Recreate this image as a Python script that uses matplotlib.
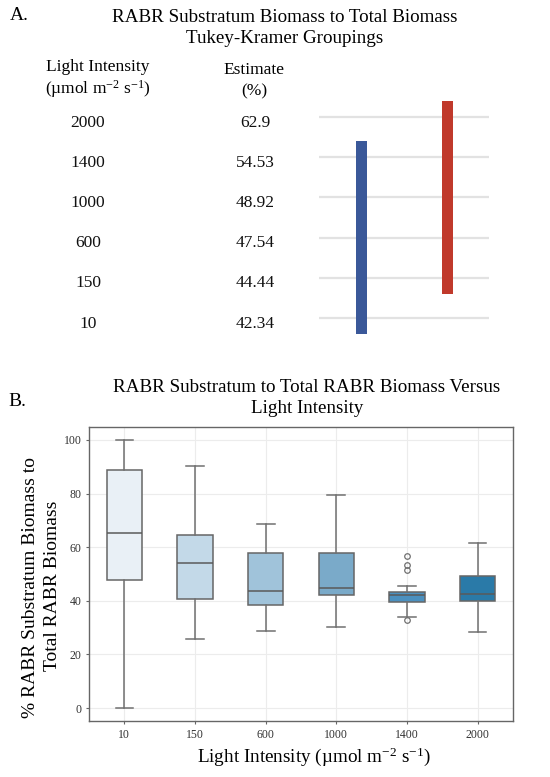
import matplotlib
matplotlib.use("Agg")
import matplotlib.pyplot as plt
import numpy as np

plt.rcParams['font.family'] = ['Liberation Serif', 'DejaVu Serif']
plt.rcParams['mathtext.fontset'] = 'custom'
plt.rcParams['mathtext.rm'] = 'Liberation Serif'
plt.rcParams['mathtext.it'] = 'Liberation Serif:italic'
plt.rcParams['mathtext.default'] = 'regular'

# ---------------- data ----------------
conditions = ["10", "150", "600", "1000", "1400", "2000"]
estimates = ["42.34", "44.44", "47.54", "48.92", "54.53", "62.9"]
group_blue = ["10", "150", "600", "1000", "1400"]
group_red = ["150", "600", "1000", "1400", "2000"]

q1 = [47.8, 40.6, 38.6, 42.0, 39.4, 40.1]
med = [65.3, 54.0, 43.6, 44.6, 42.2, 42.5]
q3 = [88.8, 64.5, 57.8, 57.9, 43.1, 49.2]
whislo = [0.0, 25.8, 28.9, 30.3, 34.0, 28.4]
whishi = [100.0, 90.2, 68.6, 79.6, 45.5, 61.7]
fliers = [[], [], [], [], [56.6, 53.3, 51.4, 32.8], []]
yticks = [0, 20, 40, 60, 80, 100]

box_colors = ['#e9f0f6', '#c3d9e8', '#a0c3da', '#7aaac9', '#4b90bf', '#2a7aa8']

unit = "(µmol m$^{-2}$ s$^{-1}$)"

W, H = 550, 777
fig = plt.figure(figsize=(5.5, 7.77), dpi=100)

def fx(px):
    return px / W

def fy(py):
    return 1 - py / H

# ---------------- Panel A ----------------
axA = fig.add_axes([0, fy(338), 1, (338 - 97) / H])
axA.set_xlim(0, W)
axA.set_ylim(-0.5, 5.5)
axA.axis('off')
rows = np.arange(len(conditions))
axA.hlines(rows, 319, 489, color='#e2e2e2', lw=1.6, zorder=1)
for i, (c, e) in enumerate(zip(conditions, estimates)):
    axA.text(88, i - 0.14, c, ha='center', va='center', fontsize=12.5, color='#111')
    axA.text(255, i - 0.14, e, ha='center', va='center', fontsize=12.5, color='#111')

def group_bar(members, x, color):
    idx = [conditions.index(m) for m in members]
    lo, hi = min(idx) - 0.4, max(idx) + 0.4
    axA.bar([x], [hi - lo], bottom=[lo], width=11, color=color, zorder=2)

group_bar(group_blue, 361.5, '#3a5899')
group_bar(group_red, 447.5, '#c0392b')

fig.text(fx(10), fy(15), "A.", ha='left', va='center', fontsize=14)
fig.text(fx(285), fy(28), "RABR Substratum Biomass to Total Biomass\nTukey-Kramer Groupings",
         ha='center', va='center', fontsize=13.7, linespacing=1.25)
fig.text(fx(98), fy(67), "Light Intensity", ha='center', va='center', fontsize=12.5)
fig.text(fx(98), fy(89), unit, ha='center', va='center', fontsize=12.5)
fig.text(fx(254), fy(70), "Estimate", ha='center', va='center', fontsize=12.5)
fig.text(fx(254), fy(91), "(%)", ha='center', va='center', fontsize=12.5)

# ---------------- Panel B ----------------
axB = fig.add_axes([fx(89), fy(721), (513 - 89) / W, (721 - 427) / H])
stats = []
for i in range(len(conditions)):
    stats.append(dict(med=med[i], q1=q1[i], q3=q3[i], whislo=whislo[i],
                      whishi=whishi[i], fliers=fliers[i], label=conditions[i]))

pos = np.arange(len(conditions))
lc = '#707070'
bp = axB.bxp(stats, positions=pos, widths=0.5, patch_artist=True, capwidths=0.25,
             boxprops=dict(edgecolor='#666666', linewidth=1.1),
             medianprops=dict(color='#5a5a5a', linewidth=1.1),
             whiskerprops=dict(color=lc, linewidth=1.1),
             capprops=dict(color=lc, linewidth=1.1),
             flierprops=dict(marker='o', markerfacecolor='none', markeredgecolor=lc,
                             markersize=4, markeredgewidth=0.9))
for patch, c in zip(bp['boxes'], box_colors):
    patch.set_facecolor(c)
    patch.set_zorder(2)

axB.set_xlim(-0.5, len(conditions) - 0.5)
axB.set_ylim(-4.85, 104.85)
axB.set_yticks(yticks)
axB.set_xticks(pos)
axB.set_xticklabels(conditions)
axB.tick_params(length=2.5, width=0.8, color='#666', labelsize=8.5, labelcolor='#333', pad=3)
axB.grid(True, color='#ececec', lw=0.8)
axB.set_axisbelow(True)
for s in axB.spines.values():
    s.set_color('#666')
    s.set_linewidth(1.0)

fig.text(fx(8), fy(402), "B.", ha='left', va='center', fontsize=14)
fig.text(fx(307), fy(398), "RABR Substratum to Total RABR Biomass Versus\nLight Intensity",
         ha='center', va='center', fontsize=13.7, linespacing=1.25)
fig.text(fx(31), fy(587), "% RABR Substratum Biomass to", rotation=90,
         ha='center', va='center', fontsize=14)
fig.text(fx(53), fy(586), "Total RABR Biomass", rotation=90,
         ha='center', va='center', fontsize=14)
fig.text(fx(314), fy(757), "Light Intensity " + unit, ha='center', va='center', fontsize=13.8)

fig.savefig("out.png", dpi=100, facecolor='white')
